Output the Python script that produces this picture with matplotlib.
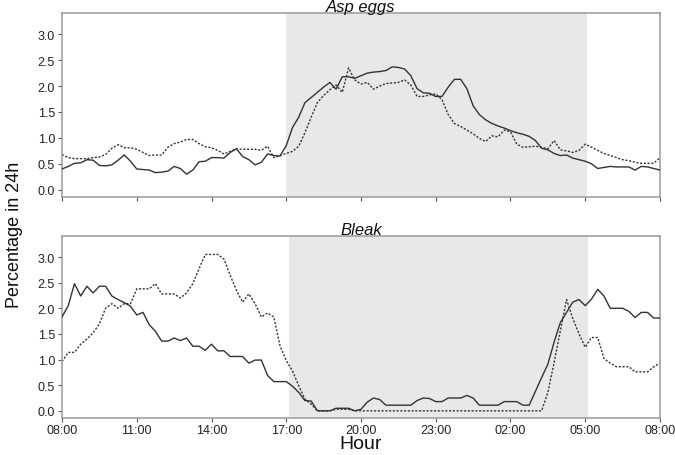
import numpy as np
import matplotlib
matplotlib.use("Agg")
import matplotlib.pyplot as plt

plt.rcParams['font.family'] = ['Liberation Sans', 'DejaVu Sans']

# 15-minute samples from 08:00 to 08:00 next day (97 points)
asp_solid = [0.40, 0.45, 0.51, 0.52, 0.58, 0.57, 0.47, 0.46, 0.48, 0.57,
             0.67, 0.55, 0.40, 0.39, 0.38, 0.33, 0.34, 0.36, 0.45, 0.41,
             0.30, 0.38, 0.54, 0.55, 0.62, 0.62, 0.61, 0.72, 0.79, 0.64,
             0.58, 0.48, 0.53, 0.69, 0.66, 0.65, 0.85, 1.20, 1.40, 1.68,
             1.78, 1.88, 1.98, 2.07, 1.94, 2.18, 2.18, 2.15, 2.20, 2.25,
             2.27, 2.28, 2.30, 2.37, 2.36, 2.33, 2.20, 1.95, 1.87, 1.86,
             1.80, 1.80, 1.98, 2.13, 2.13, 1.95, 1.62, 1.45, 1.35, 1.28,
             1.23, 1.19, 1.14, 1.10, 1.07, 1.03, 0.95, 0.80, 0.77, 0.70,
             0.66, 0.67, 0.61, 0.58, 0.55, 0.50, 0.41, 0.43, 0.45, 0.44,
             0.44, 0.44, 0.38, 0.45, 0.44, 0.41, 0.38]
asp_dotted = [0.68, 0.62, 0.60, 0.60, 0.60, 0.62, 0.63, 0.68, 0.80, 0.87,
              0.81, 0.81, 0.78, 0.72, 0.66, 0.67, 0.67, 0.82, 0.89, 0.92,
              0.97, 0.97, 0.89, 0.83, 0.81, 0.76, 0.69, 0.74, 0.79, 0.78,
              0.78, 0.78, 0.76, 0.84, 0.62, 0.66, 0.70, 0.74, 0.84, 1.10,
              1.40, 1.68, 1.82, 1.93, 2.02, 1.88, 2.35, 2.12, 2.04, 2.07,
              1.94, 2.00, 2.05, 2.06, 2.07, 2.12, 2.02, 1.80, 1.80, 1.83,
              1.85, 1.74, 1.45, 1.28, 1.22, 1.15, 1.08, 0.99, 0.93, 1.04,
              1.02, 1.15, 1.12, 0.88, 0.82, 0.83, 0.84, 0.82, 0.79, 0.95,
              0.77, 0.75, 0.72, 0.76, 0.88, 0.82, 0.76, 0.70, 0.66, 0.62,
              0.58, 0.56, 0.53, 0.51, 0.51, 0.51, 0.62]
bleak_solid = [1.83, 2.05, 2.48, 2.24, 2.43, 2.30, 2.43, 2.43, 2.24, 2.17,
               2.11, 2.04, 1.87, 1.92, 1.68, 1.55, 1.36, 1.36, 1.42, 1.37,
               1.42, 1.26, 1.26, 1.18, 1.30, 1.17, 1.17, 1.06, 1.06, 1.06,
               0.93, 0.99, 0.99, 0.69, 0.57, 0.57, 0.57, 0.48, 0.36, 0.20,
               0.19, 0.00, 0.00, 0.00, 0.05, 0.05, 0.05, 0.00, 0.03, 0.17,
               0.25, 0.22, 0.11, 0.11, 0.11, 0.11, 0.11, 0.20, 0.25, 0.24,
               0.18, 0.18, 0.25, 0.25, 0.25, 0.30, 0.25, 0.11, 0.11, 0.11,
               0.11, 0.18, 0.18, 0.18, 0.11, 0.11, 0.38, 0.65, 0.91, 1.34,
               1.72, 1.92, 2.12, 2.17, 2.05, 2.18, 2.37, 2.24, 2.00, 2.00,
               2.00, 1.94, 1.82, 1.92, 1.92, 1.81, 1.81]
bleak_dotted = [0.96, 1.14, 1.14, 1.30, 1.40, 1.52, 1.70, 2.00, 2.09, 2.00,
                2.09, 2.09, 2.38, 2.38, 2.38, 2.48, 2.28, 2.28, 2.28, 2.20,
                2.30, 2.48, 2.77, 3.05, 3.05, 3.05, 2.96, 2.64, 2.35, 2.12,
                2.28, 2.09, 1.83, 1.91, 1.83, 1.27, 0.98, 0.78, 0.49, 0.23,
                0.13, 0.00, 0.00, 0.00, 0.03, 0.03, 0.03, 0.00, 0.00, 0.00,
                0.00, 0.00, 0.00, 0.00, 0.00, 0.00, 0.00, 0.00, 0.00, 0.00,
                0.00, 0.00, 0.00, 0.00, 0.00, 0.00, 0.00, 0.00, 0.00, 0.00,
                0.00, 0.00, 0.00, 0.00, 0.00, 0.00, 0.00, 0.00, 0.36, 0.94,
                1.56, 2.17, 1.80, 1.50, 1.24, 1.43, 1.43, 1.02, 0.93, 0.86,
                0.86, 0.86, 0.76, 0.76, 0.76, 0.86, 0.93]

hour_labels = ["08:00", "11:00", "14:00", "17:00", "20:00",
               "23:00", "02:00", "05:00", "08:00"]
titles = ["Asp eggs", "Bleak"]
dark = [(8.97, 21.07), (9.12, 21.1)]

hours = np.arange(len(asp_solid)) * 0.25

fig = plt.figure(figsize=(6.75, 4.56), dpi=100)
ax1 = fig.add_axes([62/675, 258/456, 598/675, 184/456])
ax2 = fig.add_axes([62/675, 37/456, 598/675, 182/456])

panels = [(ax1, asp_solid, asp_dotted), (ax2, bleak_solid, bleak_dotted)]
for k, (ax, s, d) in enumerate(panels):
    ax.axvspan(dark[k][0], dark[k][1], color="#e8e8e8", lw=0, zorder=0)
    ax.plot(hours, s, color="#333333", lw=1.0, zorder=3)
    ax.plot(hours, d, color="#333333", lw=1.0, ls=(0, (1.5, 1.2)), zorder=2)
    ax.set_xlim(0, 24)
    ax.set_ylim(-0.14, 3.41)
    ax.set_yticks([0, 0.5, 1.0, 1.5, 2.0, 2.5, 3.0])
    ax.set_yticklabels(["0.0", "0.5", "1.0", "1.5", "2.0", "2.5", "3.0"])
    ax.set_xticks(np.arange(0, 25, 3))
    for sp in ax.spines.values():
        sp.set_color("#9a9a9a")
        sp.set_linewidth(1.1)
    ax.tick_params(length=3, width=0.8, color="#555555", labelsize=9,
                   labelcolor="#222222", pad=2)
    ax.text(0.5, 1.012, titles[k], transform=ax.transAxes, ha="center",
            va="baseline", fontsize=12, style="italic", color="#111111")

ax1.set_xticklabels([])
ax2.set_xticklabels(hour_labels)
ax2.tick_params(axis="x", pad=1)

fig.text(15/675, 1 - 235/456, "Percentage in 24h", rotation=90,
         ha="center", va="center", fontsize=13, color="#111111")
fig.text(361/675, 1 - 445/456, "Hour", ha="center", va="center",
         fontsize=14, color="#111111")

fig.savefig("out.png", dpi=100)
